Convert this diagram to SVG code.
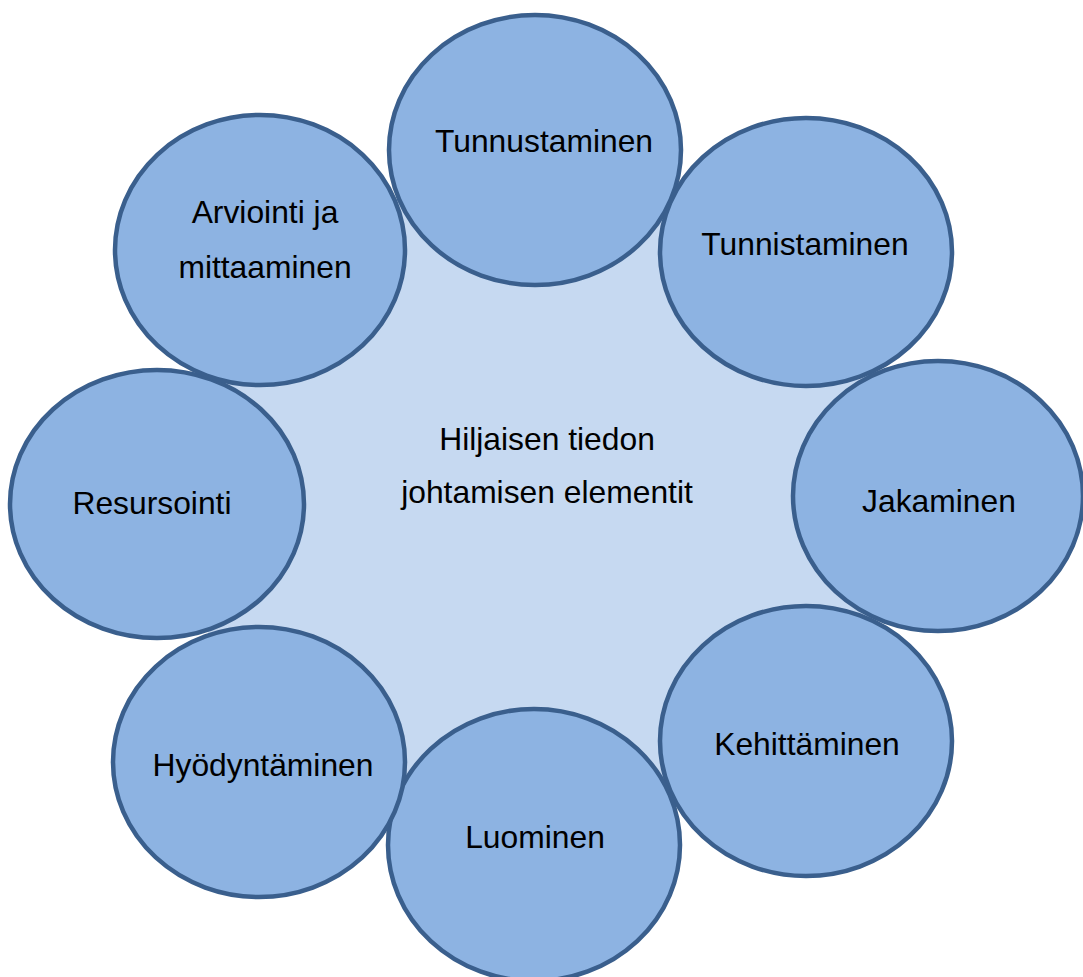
<svg xmlns="http://www.w3.org/2000/svg" width="1083" height="977" viewBox="0 0 1083 977">
  <style>
    .hub { fill: #C6D9F1; stroke: none; }
    .node ellipse { fill: #8DB3E2; stroke: #3A5F8D; stroke-width: 4.5; }
    text { font-family: "Liberation Sans", Arial, sans-serif; font-size: 31.8px; fill: #000; text-anchor: middle; }
  </style>
  <rect width="1083" height="977" fill="#FFFFFF"/>

  <!-- central area behind the ring -->
  <g id="center">
    <polygon class="hub" points="535,150 806,252 938,496 806,741 534,845 259,762 157,504 260,250"/>
    <text x="547" y="450">Hiljaisen tiedon</text>
    <text x="547" y="503">johtamisen elementit</text>
  </g>

  <g id="connectors"></g>

  <g id="tunnustaminen" class="node">
    <ellipse cx="535" cy="150" rx="146" ry="135"/>
    <text x="544" y="152">Tunnustaminen</text>
  </g>
  <g id="tunnistaminen" class="node">
    <ellipse cx="806" cy="252" rx="146" ry="134"/>
    <text x="805" y="255">Tunnistaminen</text>
  </g>
  <g id="jakaminen" class="node">
    <ellipse cx="938" cy="496" rx="145" ry="135"/>
    <text x="939" y="512">Jakaminen</text>
  </g>
  <g id="kehittaminen" class="node">
    <ellipse cx="806" cy="741" rx="146" ry="135"/>
    <text x="807" y="755">Kehittäminen</text>
  </g>
  <g id="luominen" class="node">
    <ellipse cx="534" cy="845" rx="146" ry="136"/>
    <text x="535" y="848">Luominen</text>
  </g>
  <g id="hyodyntaminen" class="node">
    <ellipse cx="259" cy="762" rx="146" ry="135"/>
    <text x="263" y="776">Hyödyntäminen</text>
  </g>
  <g id="resursointi" class="node">
    <ellipse cx="157" cy="504" rx="147" ry="134"/>
    <text x="152" y="514">Resursointi</text>
  </g>
  <g id="arviointi" class="node">
    <ellipse cx="260" cy="250" rx="145" ry="135"/>
    <text x="265" y="223">Arviointi ja</text>
    <text x="265" y="278">mittaaminen</text>
  </g>
</svg>
